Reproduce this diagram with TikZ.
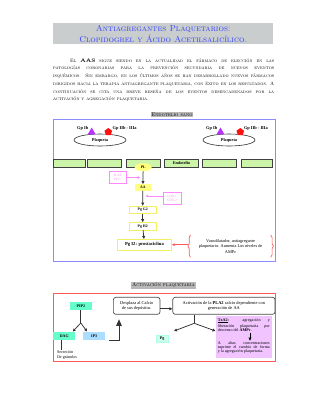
\documentclass[tikz,border=0pt]{standalone}
\usepackage{fontspec}
\newfontfamily\tnr{Liberation Serif}
\usetikzlibrary{arrows.meta,shapes.geometric,decorations.pathreplacing}
\definecolor{titlegray}{HTML}{C9CDCD}
\definecolor{titleblue}{HTML}{3340FF}
\definecolor{lgreen}{HTML}{CCF5AA}
\definecolor{yfill}{HTML}{FFFF80}
\definecolor{yborder}{HTML}{F0F060}
\definecolor{pinkc}{HTML}{FF88FF}
\definecolor{framebl}{HTML}{8C8CFF}
\definecolor{framered}{HTML}{FF5A5A}
\definecolor{aqua}{HTML}{66FFCC}
\definecolor{lblue}{HTML}{AADDFF}
\definecolor{violetf}{HTML}{F2C4FF}
\definecolor{pgfill}{HTML}{CCFFEE}
\definecolor{trip}{HTML}{BB33FF}
\definecolor{pentr}{HTML}{FF1111}
\definecolor{arrgray}{HTML}{333333}
\begin{document}
\begin{tikzpicture}[x=1pt,y=-1pt,
  every node/.style={inner sep=0pt, font=\tnr},
  greenbox/.style={draw=black!75, fill=lgreen, line width=0.7pt, minimum height=8.3pt},
  ybox/.style={draw=yborder, fill=white, line width=0.7pt, minimum width=26.7pt, minimum height=7.4pt, font=\tnr\fontsize{3.8}{4.2}\selectfont\bfseries},
  pinkbox/.style={draw=pinkc, fill=white, line width=0.6pt, text=pinkc, align=center, font=\tnr\fontsize{3.3}{4.2}\selectfont},
  arr/.style={-{Triangle[length=3pt,width=2.8pt]}, line width=0.75pt, draw=arrgray},
  pinkarr/.style={-{Triangle[length=2.6pt,width=2.4pt]}, line width=0.6pt, draw=pinkc},
  redarr/.style={-{Triangle[length=2.6pt,width=2.6pt]}, line width=0.7pt, draw=framered},
  roundbox/.style={draw=black!70, fill=white, rounded corners=2.5pt, line width=0.7pt, align=center, font=\tnr\fontsize{4.4}{5.6}\selectfont},
  plat/.style={ellipse, draw=black!80, line width=0.6pt, minimum width=52pt, minimum height=12pt, font=\tnr\fontsize{4.3}{5}\selectfont\bfseries},
  gplab/.style={font=\tnr\fontsize{4.4}{5}\selectfont\bfseries},
  tri/.style={regular polygon, regular polygon sides=3, fill=trip, minimum size=9pt},
  pent/.style={regular polygon, regular polygon sides=5, fill=pentr, minimum size=8pt},
  seclab/.style={fill=black!28, inner sep=0.8pt, font=\fontsize{5.2}{6}\selectfont\scshape},
  txtiny/.style={anchor=north, text width=52pt, align=justify, font=\tnr\fontsize{4.1}{4.0}\selectfont}
]
\fill[white] (0,0) rectangle (309,400);
\useasboundingbox (0,0) rectangle (309,400);

% Title
\node[fill=titlegray, minimum width=220pt, minimum height=21pt, align=center, text=titleblue,
      font=\fontsize{8.6}{10.8}\selectfont\scshape] (title) at (163.3,33.8)
  {Antiagregantes Plaquetarios:\\Clopidogrel y Ácido Acetilsalicílico.};

% Paragraph
\node[anchor=north west, text width=221pt, align=justify,
      font=\fontsize{4.95}{7.7}\selectfont\scshape] (para) at (53,58.2)
  {\hyphenpenalty=10000\hspace*{17pt}El \textbf{AAS} sigue siendo en la actualidad el fármaco de elección en las\linebreak
   patologías coronarias para la prevención secundaria de nuevos eventos\linebreak
   isquémicos. Sin embargo, en los últimos años se han desarrollado nuevos fármacos\linebreak
   dirigidos hacia la terapia antiagregante plaquetaria, con éxito en los resultados. A\linebreak
   continuación se cita una breve reseña de los eventos desencadenados por la\linebreak
   activación y agregación plaquetaria.};

% Endotelio sano
\node[seclab] (endlab) at (172,114.4) {Endotelio sano};
\draw[framebl, line width=0.8pt] (53.3,119.5) rectangle (275.2,261.2);

% Platelets
\node[plat] (plq1) at (100,140) {Plaqueta};
\node[tri] (gpib1) at (91.7,132) {};
\node[pent] (gpii1) at (108.3,132) {};
\node[gplab, anchor=east] (lib1) at (88.5,128.5) {Gp Ib};
\node[gplab, anchor=west] (lii1) at (112.5,128.5) {Gp IIb - IIIa};

\node[plat] (plq2) at (229,140) {Plaqueta};
\node[tri] (gpib2) at (220.5,132) {};
\node[pent] (gpii2) at (240.3,132) {};
\node[gplab, anchor=east] (lib2) at (217.5,128.5) {Gp Ib};
\node[gplab, anchor=west] (lii2) at (243.8,128.5) {Gp IIb - IIIa};

% Endothelium row
\node[greenbox, minimum width=31.7pt] (e1) at (69.2,163.2) {};
\node[greenbox, minimum width=34pt] (e2) at (104.3,163.2) {};
\node[greenbox, minimum width=34pt] (e3) at (143,163.2) {};
\node[greenbox, minimum width=34.4pt, font=\tnr\fontsize{4.2}{5}\selectfont\bfseries] (e4) at (181.5,163.2) {Endotelio};
\node[greenbox, minimum width=34pt] (e5) at (219.7,163.2) {};
\node[greenbox, minimum width=31.7pt] (e6) at (256.9,163.2) {};

% Chain
\node[ellipse, fill=yfill, minimum width=17pt, minimum height=8pt, font=\tnr\fontsize{3.8}{4}\selectfont\bfseries] (pl) at (143.2,167.2) {PL};
\node[fill=yfill, minimum width=15.7pt, minimum height=6.4pt, font=\tnr\fontsize{3.8}{4}\selectfont\bfseries] (aa) at (142.9,187.5) {AA};
\node[ybox] (g2) at (142.7,209.7) {Pg G2};
\node[ybox] (h2) at (142.7,226.2) {Pg H2};
\node[ybox, minimum width=54.4pt, minimum height=10.7pt, font=\tnr\fontsize{4.6}{5}\selectfont\bfseries] (i2) at (144.5,244.7) {Pg I2: prostaciclina};

\draw[arr] (pl) -- (aa);
\draw[arr] (aa) -- (g2);
\draw[arr] (g2) -- (h2);
\draw[arr] (h2) -- (i2);

\node[pinkbox, minimum width=17pt, minimum height=11.6pt] (pla) at (117.5,177.5) {PLA2\\PLC};
\coordinate (plain) at (140.3,177.5);
\draw[pinkarr] (pla) -- (plain);

\node[pinkbox, minimum width=18pt, minimum height=11.3pt] (cox) at (172,198.3) {COX 1\\COX 2};
\coordinate (coxin) at (145.6,196);
\draw[pinkarr] (coxin -| cox.west) -- (coxin);

% Brace
\draw[framered, line width=0.7pt, decorate, decoration={brace, amplitude=2.6pt}] (190.5,257.3) -- (190.5,235);
\draw[framered, line width=0.7pt, decorate, decoration={brace, amplitude=2.6pt}] (270.8,235) -- (270.8,257.3);
\node[align=center, font=\tnr\fontsize{4.3}{5.4}\selectfont] (vaso) at (230.6,246.4)
  {Vasodilatador, antiagregante\\plaquetario. Aumenta Los niveles de\\AMPc};
\coordinate (brt) at (188.3,244.7);
\draw[redarr] (brt) -- (i2);

% Activacion plaquetaria
\node[seclab] (actlab) at (163.5,285.3) {Activación plaquetaria};
\draw[framered, line width=0.8pt] (53.3,293.3) rectangle (275.3,361);

\node[fill=aqua, minimum width=21.7pt, minimum height=7.7pt, font=\tnr\fontsize{4}{4.5}\selectfont\bfseries] (pip) at (80.8,306.2) {PIP2};
\node[fill=aqua, minimum width=21.7pt, minimum height=8.3pt, font=\tnr\fontsize{4}{4.5}\selectfont\bfseries] (dag) at (64.2,335.9) {DAG};
\node[fill=lblue, minimum width=21.7pt, minimum height=8.3pt, font=\tnr\fontsize{4}{4.5}\selectfont\bfseries] (ip3) at (94.2,335.9) {IP3};
\coordinate (fk1) at (80.8,323);
\draw[line width=0.75pt, draw=arrgray] (pip) -- (fk1);
\draw[arr] (fk1) -- ([xshift=-2.5pt]dag.north east);
\draw[arr] (fk1) -- ([xshift=4pt]ip3.north west);

\coordinate (sec) at (61.7,350);
\draw[line width=0.6pt, draw=arrgray] (sec |- dag.south) -- (sec);
\node[anchor=north west, align=left, font=\tnr\fontsize{4.1}{5}\selectfont] (seclbl) at (56.8,350.2) {Secreción\\De gránulos};

\node[roundbox, minimum width=46.7pt, minimum height=17pt] (dep) at (136.7,305.8) {Desplaza al Calcio\\de sus depósitos.};
\coordinate (up) at (119,319.3);
\draw[line width=0.75pt, draw=arrgray, -{Triangle[length=6.5pt,width=5.5pt]}] ([xshift=4pt]ip3.south east) -| (up);

\node[roundbox, minimum width=102.3pt, minimum height=17pt] (act) at (223.9,305.8) {Activación de la \textbf{PLA2} calcio dependiente con\\generación de AA};
\draw[arr] ([yshift=-3pt]dep.east) -- ([yshift=-3pt]act.west);

\coordinate (fk2) at (194.3,323.3);
\coordinate (pgl) at (174,331);
\coordinate (txl) at (215.5,331);
\draw[line width=0.75pt, draw=arrgray] (fk2 |- act.south) -- (fk2);
\draw[arr] (fk2) -- (pgl);
\draw[arr] (fk2) -- (txl);

\node[fill=pgfill, draw=pgfill!70!aqua, line width=0.4pt, minimum width=12.3pt, minimum height=7.3pt, font=\tnr\fontsize{4}{4.5}\selectfont\bfseries] (pg) at (162.2,338.7) {Pg};

\node[fill=violetf, minimum width=55.7pt, minimum height=42.3pt] (txa) at (243.8,337.2) {};
\node[txtiny] (txat) at (243.8,318.2)
  {\textbf{\underline{TxA2}:} agregación y\linebreak liberación plaquetaria por\linebreak descenso del \textbf{AMPc}.};
\node[txtiny] (txab) at (243.8,341.8)
  {A altas concentraciones\linebreak suprime el cambio de forma\linebreak y la agregación plaquetaria.};
\coordinate (tt) at (250,332.6);
\coordinate (tb) at (250,340.6);
\draw[arr, line width=0.7pt, draw=black] (tt) -- (tb);
\end{tikzpicture}
\end{document}
